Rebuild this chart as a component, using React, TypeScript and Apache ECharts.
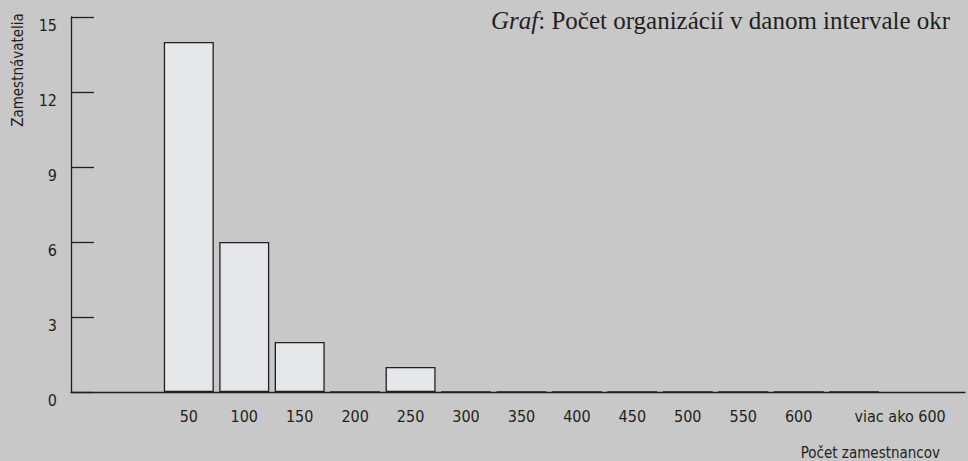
import React, { useEffect, useRef } from "react";
import * as echarts from "echarts";

const categories = ["50", "100", "150", "200", "250", "300", "350", "400", "450", "500", "550", "600", "viac ako 600"];
const employers = [14, 6, 2, 0, 1, 0, 0, 0, 0, 0, 0, 0, 0];
const yTicks = [0, 3, 6, 9, 12, 15];
const titleItalic = "Graf";
const titleRest = ": Počet organizácií v danom intervale okr";
const yName = "Zamestnávatelia";
const xName = "Počet zamestnancov";

// x positions in eighths of a category slot, measured from the y axis
const FIRST = 17;
const STEP = 8;
const XMAX = 129;

const INK = "#231f20";
const SANS = "'DejaVu Sans Condensed', 'DejaVu Sans', sans-serif";
const SERIF = "'Liberation Serif', serif";

export default function App() {
  const ref = useRef<HTMLDivElement>(null);
  useEffect(() => {
    if (!ref.current) return;
    const chart = echarts.init(ref.current, undefined, { renderer: "svg" });
    const data = employers.map((v, i) => [FIRST + STEP * i, v]);
    chart.setOption({
      animation: false,
      backgroundColor: "#c8c8c8",
      title: [
        {
          text: `{i|${titleItalic}}${titleRest}`,
          left: 491,
          top: 8,
          padding: 0,
          textStyle: {
            fontFamily: SERIF,
            fontSize: 25,
            fontWeight: "normal",
            color: INK,
            rich: {
              i: { fontFamily: SERIF, fontSize: 25, fontStyle: "italic", color: INK },
            },
          },
        },
        {
          text: xName,
          right: 28,
          top: 445,
          padding: 0,
          textStyle: { fontFamily: SANS, fontSize: 15, fontWeight: "normal", color: INK },
        },
      ],
      graphic: [
        {
          type: "text",
          x: 18,
          y: 70,
          rotation: Math.PI / 2,
          style: {
            text: yName,
            font: `15px ${SANS}`,
            fill: INK,
            align: "center",
            verticalAlign: "middle",
          },
        },
      ],
      grid: { left: 71, right: 0, top: 17, bottom: 69, containLabel: false },
      xAxis: {
        type: "value",
        min: 0,
        max: XMAX,
        interval: 1,
        splitLine: { show: false },
        axisTick: { show: false },
        axisLine: { show: true, onZero: false, lineStyle: { color: INK, width: 1.3 } },
        axisLabel: {
          margin: 16,
          fontFamily: SANS,
          fontSize: 16,
          color: INK,
          showMinLabel: true,
          showMaxLabel: true,
          formatter: (v: number) => {
            const k = (v - FIRST) / STEP;
            if (!Number.isInteger(k) || k < 0 || k >= categories.length) return "";
            if (k === categories.length - 1) return `{r|${categories[k]}}`;
            return categories[k];
          },
          rich: {
            r: { fontFamily: SANS, fontSize: 16, color: INK, padding: [0, 0, 0, 92] },
          },
        },
      },
      yAxis: {
        type: "value",
        min: yTicks[0],
        max: yTicks[yTicks.length - 1],
        interval: yTicks[1] - yTicks[0],
        splitLine: { show: false },
        axisLine: { show: true, lineStyle: { color: INK, width: 1.3 } },
        axisTick: { show: true, inside: true, length: 23, lineStyle: { color: INK, width: 1.3 } },
        axisLabel: {
          margin: 14,
          fontFamily: SANS,
          fontSize: 16,
          color: INK,
          verticalAlign: "top",
        },
      },
      series: [
        {
          type: "bar",
          data,
          barWidth: 50,
          itemStyle: { color: "#e6e7e8", borderColor: INK, borderWidth: 1.3 },
        },
      ],
    });
    return () => chart.dispose();
  }, []);
  return <div ref={ref} style={{ width: 968, height: 461, position: "absolute", left: 0, top: 0 }} />;
}
